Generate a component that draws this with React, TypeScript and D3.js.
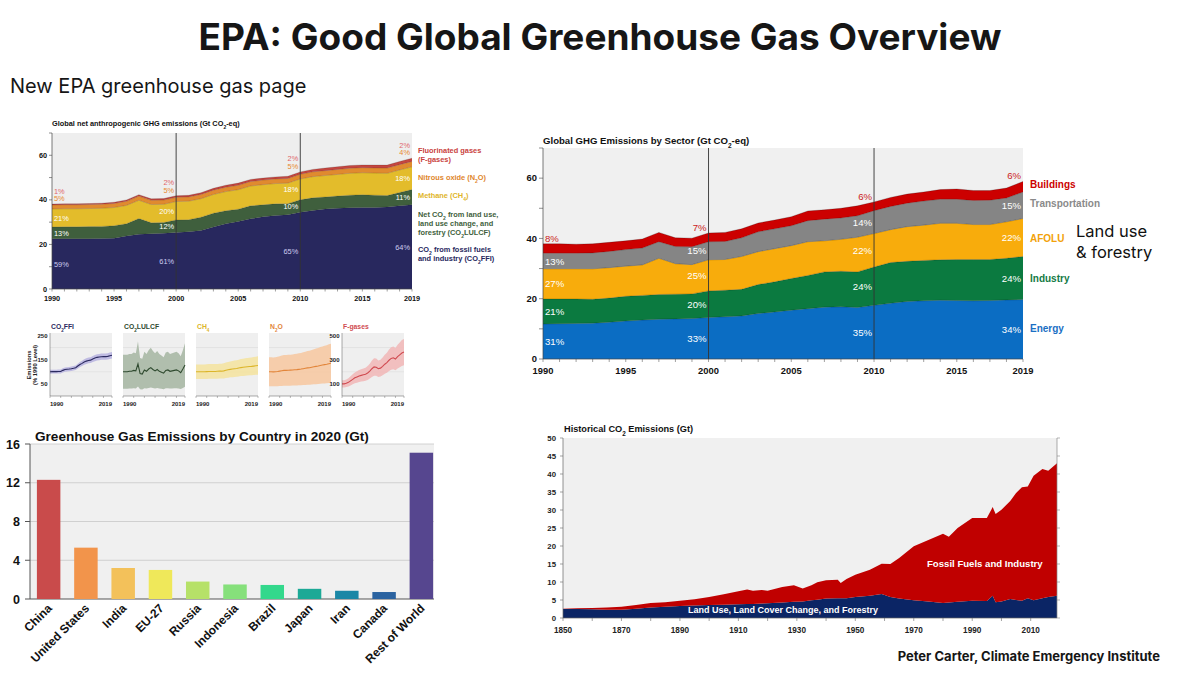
import React from 'react';
import * as d3 from 'd3';

// ---------- shared ----------
const years = d3.range(1990, 2020);

// ---------- top-left: gases (Gt CO2-eq) ----------
const gasFFI = [22.5,22.6,22.6,22.6,22.7,22.8,23.8,24.6,24.8,25.0,25.3,25.7,26.3,27.8,29.3,30.3,31.5,32.4,33.0,33.3,34.4,35.2,35.9,36.2,36.5,36.6,36.6,36.8,37.4,37.8];
const gasLULUCF = [5.3,5.3,5.3,5.4,5.4,5.6,5.5,7.0,4.9,4.8,5.7,5.4,5.9,6.2,5.8,5.5,5.8,5.4,5.2,5.0,5.6,5.7,5.4,5.5,5.6,5.7,5.5,5.1,5.9,6.8];
const gasCH4 = [8.1,8.1,8.1,8.1,8.1,8.15,8.2,8.2,8.2,8.2,8.25,8.3,8.3,8.4,8.6,8.75,8.9,9.0,9.1,9.2,9.35,9.5,9.6,9.7,9.8,9.85,9.9,10.0,10.1,10.2];
const gasN2O = [1.8,1.8,1.79,1.8,1.82,1.85,1.88,1.9,1.9,1.91,1.92,1.93,1.95,1.96,1.98,2.0,2.03,2.06,2.09,2.1,2.14,2.17,2.2,2.23,2.27,2.3,2.33,2.36,2.4,2.43];
const gasFgas = [0.4,0.4,0.42,0.45,0.5,0.55,0.6,0.63,0.66,0.68,0.7,0.72,0.76,0.82,0.9,0.96,0.95,0.9,0.92,0.98,1.05,1.1,1.18,1.24,1.26,1.22,1.3,1.36,1.42,1.45];
const gasKeys = ['ffi', 'lulucf', 'ch4', 'n2o', 'fgas'];
const gasColors = ['#28285e', '#3f5f3d', '#e3bc2b', '#e08a2f', '#c4463f'];
const gasPctYears = [1990, 2000, 2010, 2019];
const gasPct = [
  ['59%', '13%', '21%', '5%', '1%'],
  ['61%', '12%', '20%', '5%', '2%'],
  ['65%', '10%', '18%', '5%', '2%'],
  ['64%', '11%', '18%', '4%', '2%'],
];
const gasPctColors = ['#cfcdf0', '#ffffff', '#ffffff', '#e8892e', '#e0666a'];
const gasXTicks = [1990, 1995, 2000, 2005, 2010, 2015, 2019];

// ---------- small multiples ----------
const smTitles = ['FFI', 'LULCF', 'CH4', 'N2O', 'F-gases'];
const smUncertainty = [0.08, 0.7, 0.3, 0.6, 0.3];
const smLineColors = ['#2b2a60', '#2f4a2f', '#dcb52a', '#e2853a', '#d04a50'];
const smBandColors = ['#b9b5e0', '#a8b8a5', '#f4e3a2', '#f6c9a3', '#f1b9b9'];

// ---------- top-right: sectors ----------
const secEnergy = [11.6,11.7,11.8,11.9,12.2,12.6,12.9,13.2,13.3,13.4,13.8,14.0,14.3,15.1,15.6,16.2,16.7,17.2,17.3,17.1,17.8,18.5,19.1,19.3,19.5,19.4,19.3,19.4,19.6,19.7];
const secIndustry = [8.3,8.2,8.1,7.9,8.0,8.2,8.2,8.2,8.2,8.2,8.8,8.8,8.8,9.6,10.0,10.5,11.0,11.7,11.8,11.8,12.7,13.5,13.3,13.4,13.4,13.6,13.7,13.6,13.8,14.3];
const secAFOLU = [10.0,10.0,10.0,10.1,10.1,10.0,10.1,12.0,10.1,9.7,10.3,10.2,10.9,10.9,11.0,10.9,11.2,10.3,10.6,11.5,11.1,10.9,11.5,11.7,12.1,12.0,11.6,11.6,12.1,12.6];
const secTransport = [5.2,5.2,5.2,5.3,5.4,5.5,5.6,5.5,5.7,5.9,6.0,6.0,6.2,6.6,6.6,6.6,7.0,7.2,7.1,7.1,7.6,7.7,7.8,8.0,8.0,8.0,8.0,8.1,7.9,8.8];
const secBuildings = [3.1,3.1,3.0,3.0,3.0,2.9,3.0,3.1,2.9,2.9,2.9,3.0,3.0,2.9,2.9,3.0,3.2,3.1,3.2,3.3,2.9,3.0,3.0,3.0,3.2,3.4,3.3,3.2,3.3,3.5];
const secKeys = ['energy', 'industry', 'afolu', 'transport', 'buildings'];
const secNames = ['Energy', 'Industry', 'AFOLU', 'Transportation', 'Buildings'];
const secColors = ['#0b6dc3', '#0b7a40', '#f8ac0c', '#858585', '#cc0000'];
const secLegendColors = ['#1a6fc4', '#147a45', '#f2a20a', '#8a8a8a', '#cc0000'];
const secPctYears = [1990, 2000, 2010, 2019];
const secPct = [
  ['31%', '21%', '27%', '13%', '8%'],
  ['33%', '20%', '25%', '15%', '7%'],
  ['35%', '24%', '22%', '14%', '6%'],
  ['34%', '24%', '22%', '15%', '6%'],
];

// ---------- bottom-left: countries ----------
const countries = ['China', 'United States', 'India', 'EU-27', 'Russia', 'Indonesia', 'Brazil', 'Japan', 'Iran', 'Canada', 'Rest of World'];
const countryValues = [12.3, 5.3, 3.2, 3.0, 1.8, 1.5, 1.45, 1.05, 0.85, 0.72, 15.1];
const countryColors = ['#c94b4b', '#f2944b', '#f3c15a', '#efe85a', '#b6e168', '#86e07b', '#33d88c', '#1ca996', '#1a87a6', '#2b63a0', '#56468f'];
const countryTicks = [0, 4, 8, 12, 16];

// ---------- bottom-right: historical CO2 ----------
const histYears = [1850,1855,1860,1865,1870,1875,1880,1885,1890,1895,1900,1905,1910,1913,1915,1918,1920,1925,1929,1932,1935,1937,1940,1944,1945,1947,1950,1955,1959,1962,1965,1970,1975,1980,1982,1985,1990,1995,1997,1998,2000,2003,2005,2007,2009,2011,2014,2016,2019];
const histLand = [2.5,2.5,2.4,2.3,2.3,2.6,2.9,3.1,3.3,3.5,3.6,3.7,3.8,3.9,3.9,4.0,4.1,4.3,4.5,4.6,4.9,5.1,5.4,5.5,5.5,5.5,5.8,6.2,6.7,5.8,5.4,4.9,4.6,4.2,4.3,4.5,4.8,4.7,6.2,4.4,4.6,5.3,5.0,4.8,5.5,4.9,5.5,5.8,6.2];
const histFossil = [0.1,0.2,0.4,0.6,0.8,1.0,1.3,1.3,1.5,1.7,2.2,2.9,3.6,4.0,3.7,3.8,3.5,4.3,4.6,3.6,4.2,4.8,5.1,5.1,4.2,5.3,6.2,7.2,8.4,9.2,11.3,15.0,17.1,19.2,18.3,20.5,23.0,23.1,24.6,24.5,25.5,27.2,29.7,31.5,31.0,34.6,35.9,35.1,36.8];
const histYTicks = d3.range(0, 55, 5);
const histXTicks = d3.range(1850, 2020, 20);

const FONT = '"Liberation Sans", Arial, Helvetica, sans-serif';
const TFONT = 'Inter, "Open Sans", sans-serif';

const Sub = ({ c, s }: { c: string; s: number }) => (
  <tspan baselineShift="sub" fontSize={s}>{c}</tspan>
);

function TopLeft() {
  const x = d3.scaleLinear().domain([1990, 2019]).range([52, 412]);
  const y = d3.scaleLinear().domain([0, 70]).range([289, 133]);
  const rows = years.map((yr, i) => ({ year: yr, ffi: gasFFI[i], lulucf: gasLULUCF[i], ch4: gasCH4[i], n2o: gasN2O[i], fgas: gasFgas[i] }));
  const series = d3.stack<any>().keys(gasKeys)(rows as any);
  const area = d3.area<any>().x((d: any) => x(d.data.year)).y0((d: any) => y(d[0])).y1((d: any) => y(d[1]));
  const line = d3.line<any>().x((d: any) => x(d.data.year)).y((d: any) => y(d[1]));
  const fs = 7.3;
  return (
    <g fontFamily={FONT} fontWeight="bold">
      <text x={52} y={126} fontSize={7.35} fill="#111">Global net anthropogenic GHG emissions (Gt CO<Sub c="2" s={5} />-eq)</text>
      <rect x={52} y={133} width={360} height={156} fill="#eeeeee" />
      {series.map((s, k) => (
        <path key={k} d={area(s as any) || ''} fill={gasColors[k]} />
      ))}
      {series.map((s, k) => (
        <path key={'l' + k} d={line(s as any) || ''} fill="none" stroke="#000" strokeOpacity={0.25} strokeWidth={0.6} />
      ))}
      {[2000, 2010].map(yr => (
        <line key={yr} x1={x(yr)} x2={x(yr)} y1={133} y2={289} stroke="#333" strokeWidth={0.9} />
      ))}
      <line x1={52} x2={52} y1={133} y2={289} stroke="#444" strokeWidth={0.7} />
      <line x1={52} x2={412} y1={289} y2={289} stroke="#444" strokeWidth={0.7} />
      {d3.range(0, 71, 10).map(v => (
        <line key={v} x1={49} x2={52} y1={y(v)} y2={y(v)} stroke="#444" strokeWidth={0.6} />
      ))}
      {[0, 20, 40, 60].map(v => (
        <text key={v} x={47} y={y(v) + 2.5} fontSize={fs} textAnchor="end" fill="#111">{v}</text>
      ))}
      {years.map(yr => (
        <line key={yr} x1={x(yr)} x2={x(yr)} y1={289} y2={291.5} stroke="#444" strokeWidth={0.5} />
      ))}
      {gasXTicks.map(yr => (
        <text key={yr} x={x(yr)} y={301} fontSize={fs} textAnchor="middle" fill="#111">{yr}</text>
      ))}
      {gasPctYears.map((yr, j) => {
        const i = years.indexOf(yr);
        const top = y(series[4][i][1]);
        const first = j === 0;
        const xx = first ? x(yr) + 2 : x(yr) - 2;
        return gasPct[j].map((t, k) => {
          let yy;
          if (k < 3) yy = (y(series[k][i][0]) + y(series[k][i][1])) / 2 + 3;
          else if (k === 3) yy = top - 3;
          else yy = top - 10.5;
          return (
            <text key={yr + '-' + k} x={xx} y={yy} fontSize={7.4} fontWeight="normal" textAnchor={first ? 'start' : 'end'} fill={gasPctColors[k]}>{t}</text>
          );
        });
      })}
      <g fontSize={7.4}>
        <text x={418} y={153} fill="#c9423d">Fluorinated gases</text>
        <text x={418} y={162} fill="#c9423d">(F-gases)</text>
        <text x={418} y={180} fill="#e0862c">Nitrous oxide (N<Sub c="2" s={5} />O)</text>
        <text x={418} y={198} fill="#e0b52a">Methane (CH<Sub c="4" s={5} />)</text>
        <text x={418} y={217} fill="#3f5f3d">Net CO<Sub c="2" s={5} /> from land use,</text>
        <text x={418} y={226} fill="#3f5f3d">land use change, and</text>
        <text x={418} y={235} fill="#3f5f3d">forestry (CO<Sub c="2" s={5} />LULCF)</text>
        <text x={418} y={252} fill="#28285e">CO<Sub c="2" s={5} /> from fossil fuels</text>
        <text x={418} y={261} fill="#28285e">and industry (CO<Sub c="2" s={5} />FFI)</text>
      </g>
    </g>
  );
}

function SmallMultiples() {
  const seriesList = [gasFFI, gasLULUCF, gasCH4, gasN2O, gasFgas];
  const top = 333, bottom = 396;
  return (
    <g fontFamily={FONT} fontWeight="bold">
      <text transform="translate(31,365) rotate(-90)" fontSize={5.8} textAnchor="middle" fill="#222">
        <tspan x={0} dy={0}>Emissions</tspan>
        <tspan x={0} dy={6.3}>(% 1990 Level)</tspan>
      </text>
      {seriesList.map((vals, p) => {
        const x0 = 50 + p * 73;
        const x = d3.scaleLinear().domain([1990, 2019]).range([x0, x0 + 62]);
        const max = p === 4 ? 520 : 260;
        const y = d3.scaleLinear().domain([0, max]).range([bottom, top]);
        const idx = vals.map(v => (v / vals[0]) * 100);
        const u = smUncertainty[p];
        const band = d3.area<number>().x((_, i) => x(years[i])).y0(d => y(Math.max(0, d * (1 - u)))).y1(d => y(Math.min(max, d * (1 + u))));
        const line = d3.line<number>().x((_, i) => x(years[i])).y(d => y(d));
        const grid = p === 4 ? [200, 400] : [100, 200];
        const ticks = p === 4 ? [500, 300, 100] : [250, 150, 50];
        const tc = smLineColors[p];
        return (
          <g key={p}>
            <rect x={x0} y={top} width={62} height={bottom - top} fill="#efefef" />
            {grid.map(g => (
              <line key={g} x1={x0} x2={x0 + 62} y1={y(g)} y2={y(g)} stroke="#dcdcdc" strokeWidth={0.6} />
            ))}
            <path d={band(idx) || ''} fill={smBandColors[p]} opacity={0.9} />
            <path d={line(idx) || ''} fill="none" stroke={tc} strokeWidth={1.1} />
            <line x1={x0} x2={x0 + 62} y1={bottom} y2={bottom} stroke="#555" strokeWidth={0.5} />
            {(p === 0 || p === 4) && <line x1={x0} x2={x0} y1={top} y2={bottom} stroke="#555" strokeWidth={0.5} />}
            {d3.range(1990, 2020, 5).concat([2019]).map(t => (
              <line key={t} x1={x(t)} x2={x(t)} y1={bottom} y2={bottom + 2} stroke="#555" strokeWidth={0.4} />
            ))}
            {(p === 0 || p === 4) && ticks.map(t => (
              <text key={t} x={x0 - 2.5} y={y(t) + 2.2} fontSize={6} textAnchor="end" fill="#222">{t}</text>
            ))}
            <text x={x(1990)} y={406} fontSize={6} textAnchor="start" fill="#222">1990</text>
            <text x={x(2019)} y={406} fontSize={6} textAnchor="end" fill="#222">2019</text>
            <text x={x0 + 1} y={329} fontSize={6.8} fill={tc}>
              {p === 0 && <>CO<Sub c="2" s={4.6} />FFI</>}
              {p === 1 && <>CO<Sub c="2" s={4.6} />LULCF</>}
              {p === 2 && <>CH<Sub c="4" s={4.6} /></>}
              {p === 3 && <>N<Sub c="2" s={4.6} />O</>}
              {p === 4 && <>{smTitles[4]}</>}
            </text>
          </g>
        );
      })}
    </g>
  );
}

function TopRight() {
  const x = d3.scaleLinear().domain([1990, 2019]).range([543, 1023]);
  const y = d3.scaleLinear().domain([0, 70]).range([359, 148]);
  const rows = years.map((yr, i) => ({ year: yr, energy: secEnergy[i], industry: secIndustry[i], afolu: secAFOLU[i], transport: secTransport[i], buildings: secBuildings[i] }));
  const series = d3.stack<any>().keys(secKeys)(rows as any);
  const area = d3.area<any>().x((d: any) => x(d.data.year)).y0((d: any) => y(d[0])).y1((d: any) => y(d[1]));
  const line = d3.line<any>().x((d: any) => x(d.data.year)).y((d: any) => y(d[1]));
  const legendY = [332, 282, 242, 207, 188];
  return (
    <g fontFamily={FONT} fontWeight="bold">
      <text x={543} y={144} fontSize={9.6} fill="#111">Global GHG Emissions by Sector (Gt CO<Sub c="2" s={6.5} />-eq)</text>
      <rect x={543} y={148} width={480} height={211} fill="#f0f0f0" />
      {series.map((s, k) => (
        <path key={k} d={area(s as any) || ''} fill={secColors[k]} />
      ))}
      {series.map((s, k) => (
        <path key={'l' + k} d={line(s as any) || ''} fill="none" stroke="#000" strokeOpacity={0.35} strokeWidth={0.6} />
      ))}
      {[2000, 2010].map(yr => (
        <line key={yr} x1={x(yr)} x2={x(yr)} y1={148} y2={359} stroke="#333" strokeWidth={0.9} />
      ))}
      <line x1={543} x2={543} y1={148} y2={359} stroke="#444" strokeWidth={0.7} />
      <line x1={543} x2={1023} y1={359} y2={359} stroke="#444" strokeWidth={0.7} />
      {d3.range(0, 71, 10).map(v => (
        <line key={v} x1={539} x2={543} y1={y(v)} y2={y(v)} stroke="#444" strokeWidth={0.6} />
      ))}
      {[0, 20, 40, 60].map(v => (
        <text key={v} x={537} y={y(v) + 3.3} fontSize={9.4} textAnchor="end" fill="#111">{v}</text>
      ))}
      {years.map(yr => (
        <line key={yr} x1={x(yr)} x2={x(yr)} y1={359} y2={362} stroke="#444" strokeWidth={0.5} />
      ))}
      {gasXTicks.map(yr => (
        <text key={yr} x={x(yr)} y={374} fontSize={9.4} textAnchor="middle" fill="#111">{yr}</text>
      ))}
      {secPctYears.map((yr, j) => {
        const i = years.indexOf(yr);
        const first = j === 0;
        const xx = first ? x(yr) + 2 : x(yr) - 2;
        return secPct[j].map((t, k) => {
          const yy = k < 4 ? (y(series[k][i][0]) + y(series[k][i][1])) / 2 + 3.5 : y(series[4][i][1]) - 2;
          return (
            <text key={yr + '-' + k} x={xx} y={yy} fontSize={9.6} fontWeight="normal" textAnchor={first ? 'start' : 'end'} fill={k === 4 ? '#cc2222' : '#ffffff'}>{t}</text>
          );
        });
      })}
      {secNames.map((n, k) => (
        <text key={n} x={1030} y={legendY[k]} fontSize={10} fill={secLegendColors[k]}>{n}</text>
      ))}
      <text x={1076} y={237} fontSize={16.5} fontFamily={TFONT} fontWeight="normal" fill="#111">Land use</text>
      <text x={1076} y={258} fontSize={16.5} fontFamily={TFONT} fontWeight="normal" fill="#111">&amp; forestry</text>
    </g>
  );
}

function CountryBars() {
  const x = d3.scaleBand().domain(countries).range([30, 440]).paddingInner(0.37).paddingOuter(0.185);
  const y = d3.scaleLinear().domain([0, 16]).range([599, 444]);
  return (
    <g fontFamily={FONT} fontWeight="bold">
      <text x={35} y={441} fontSize={13.6} fill="#111">Greenhouse Gas Emissions by Country in 2020 (Gt)</text>
      <rect x={30} y={444} width={404} height={155} fill="#f0f0f0" />
      {countryTicks.map(t => (
        <g key={t}>
          <line x1={30} x2={434} y1={y(t)} y2={y(t)} stroke={t === 0 ? '#555' : '#c8c8c8'} strokeWidth={t === 0 ? 1 : 0.8} />
          <line x1={25} x2={30} y1={y(t)} y2={y(t)} stroke="#555" strokeWidth={1} />
          <text x={20} y={y(t) + 4.5} fontSize={12.5} textAnchor="end" fill="#111">{t}</text>
        </g>
      ))}
      <line x1={30} x2={30} y1={444} y2={599} stroke="#555" strokeWidth={1} />
      {countries.map((c, i) => (
        <rect key={c} x={x(c)} y={y(countryValues[i])} width={x.bandwidth()} height={y(0) - y(countryValues[i])} fill={countryColors[i]} />
      ))}
      {countries.map(c => (
        <text key={c} transform={`translate(${(x(c) || 0) + x.bandwidth() / 2 + 4},${609}) rotate(-45)`} fontSize={12} textAnchor="end" fill="#111">{c}</text>
      ))}
    </g>
  );
}

function Historical() {
  const x = d3.scaleLinear().domain([1850, 2019]).range([563, 1057]);
  const y = d3.scaleLinear().domain([0, 50]).range([618, 438]);
  const rows = histYears.map((yr, i) => ({ year: yr, land: histLand[i], fossil: histFossil[i] }));
  const series = d3.stack<any>().keys(['land', 'fossil'])(rows as any);
  const area = d3.area<any>().x((d: any) => x(d.data.year)).y0((d: any) => y(d[0])).y1((d: any) => y(d[1]));
  const colors = ['#0b2565', '#c00000'];
  return (
    <g fontFamily={FONT} fontWeight="bold">
      <text x={564} y={432} fontSize={9.2} fill="#111">Historical CO<Sub c="2" s={6.3} /> Emissions (Gt)</text>
      <rect x={563} y={438} width={494} height={180} fill="#f0f0f0" />
      {series.map((s, k) => (
        <path key={k} d={area(s as any) || ''} fill={colors[k]} />
      ))}
      <line x1={563} x2={563} y1={438} y2={618} stroke="#666" strokeWidth={0.7} />
      <line x1={1057} x2={1057} y1={438} y2={618} stroke="#888" strokeWidth={0.7} />
      <line x1={563} x2={1057} y1={618} y2={618} stroke="#666" strokeWidth={0.7} />
      {histYTicks.map(t => (
        <g key={t}>
          <line x1={560} x2={563} y1={y(t)} y2={y(t)} stroke="#666" strokeWidth={0.6} />
          <line x1={1057} x2={1060} y1={y(t)} y2={y(t)} stroke="#888" strokeWidth={0.6} />
          <text x={556} y={y(t) + 2.8} fontSize={7.8} textAnchor="end" fill="#222">{t}</text>
        </g>
      ))}
      {d3.range(1850, 2020, 10).map(t => (
        <line key={t} x1={x(t)} x2={x(t)} y1={618} y2={621} stroke="#666" strokeWidth={0.6} />
      ))}
      {histXTicks.map(t => (
        <text key={t} x={x(t)} y={633} fontSize={8.2} textAnchor="middle" fill="#222">{t}</text>
      ))}
      <text x={927} y={567} fontSize={9.6} fill="#ffffff">Fossil Fuels and Industry</text>
      <text x={688} y={613} fontSize={9} fill="#ffffff">Land Use, Land Cover Change, and Forestry</text>
    </g>
  );
}

export default function App() {
  return (
    <div style={{ position: 'absolute', left: 0, top: 0, width: 1200, height: 675, background: '#fff' }}>
      <svg width={1200} height={675} viewBox="0 0 1200 675" style={{ display: 'block' }}>
        <rect width={1200} height={675} fill="#ffffff" />
        <text x={600} y={50} fontFamily={TFONT} fontWeight={700} fontSize={37} textAnchor="middle" fill="#161616">EPA: Good Global Greenhouse Gas Overview</text>
        <text x={10} y={93} fontFamily={TFONT} fontSize={20} fill="#161616">New EPA greenhouse gas page</text>
        <TopLeft />
        <SmallMultiples />
        <TopRight />
        <CountryBars />
        <Historical />
        <text x={1160} y={661} fontFamily={TFONT} fontWeight={700} fontSize={13} textAnchor="end" fill="#161616">Peter Carter, Climate Emergency Institute</text>
      </svg>
    </div>
  );
}
